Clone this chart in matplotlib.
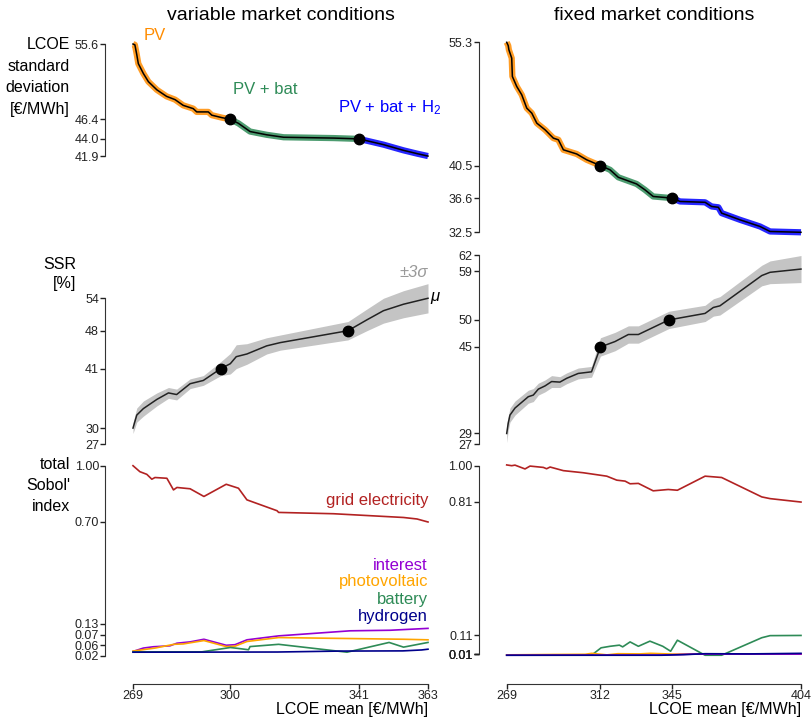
import numpy as np
import matplotlib
matplotlib.use('Agg')
import matplotlib.pyplot as plt

plt.rcParams['font.family'] = ['Liberation Sans', 'DejaVu Sans']
plt.rcParams['mathtext.fontset'] = 'custom'
plt.rcParams['mathtext.rm'] = 'Liberation Sans'
plt.rcParams['mathtext.it'] = 'Liberation Sans:italic'

# ---- LCOE standard deviation vs LCOE mean (variable market) ----
var_pv_x = [269, 269.6, 270.2, 270.7, 272.3, 273.9, 276.6, 279.7, 282.4, 285.0, 288.2, 289.3, 293.0, 294.1, 297.3, 300]
var_pv_y = [55.6, 55.5, 54.3, 53.2, 52.0, 51.0, 50.0, 49.2, 48.8, 48.1, 47.7, 47.3, 47.3, 46.9, 46.6, 46.4]
var_bat_x = [300, 302.6, 306.3, 311.6, 317, 332.9, 341]
var_bat_y = [46.4, 45.9, 44.9, 44.5, 44.2, 44.1, 44.0]
var_h2_x = [341, 348.8, 355.2, 359.5, 363]
var_h2_y = [44.0, 43.3, 42.6, 42.2, 41.9]

# ---- LCOE standard deviation (fixed market) ----
fix_pv_x = [269, 269.7, 270, 271.3, 271.6, 273.6, 275.9, 278.2, 280.5, 282.8, 286.6, 290.4, 292.7, 295, 301.1, 305.7, 312]
fix_pv_y = [55.3, 54.9, 54.4, 53.4, 51.2, 50.0, 49.0, 47.4, 46.8, 45.6, 44.8, 43.8, 43.6, 42.4, 41.9, 41.2, 40.5]
fix_bat_x = [312, 316.4, 320.2, 328.6, 332.4, 336.2, 345]
fix_bat_y = [40.5, 40.0, 39.1, 38.3, 37.6, 36.8, 36.6]
fix_h2_x = [345, 348.5, 360, 363, 366.1, 367.6, 376, 385.2, 389.8, 404]
fix_h2_y = [36.6, 36.2, 36.1, 35.6, 35.5, 34.8, 34.0, 33.2, 32.6, 32.5]

# ---- SSR mean and 3 sigma ----
ssr_var_x = [269, 270.2, 272.3, 276.6, 280.3, 282.9, 287.2, 291.4, 297, 300, 301.9, 305.3, 311.6, 315.9, 337.5, 343.5, 348.8, 355.2, 363]
ssr_var_mu = [30.0, 32.4, 33.6, 35.3, 36.5, 36.2, 38.2, 38.8, 41.0, 41.9, 43.2, 43.7, 45.2, 45.8, 48.0, 50.0, 51.7, 52.9, 54.0]
ssr_var_3sd = [1.0, 1.3, 1.4, 1.2, 1.0, 1.0, 0.9, 0.9, 1.3, 1.9, 2.2, 1.9, 1.5, 1.4, 1.7, 2.0, 2.3, 2.5, 2.7]
ssr_var_dots = [8, 14]

ssr_fix_x = [269, 269.7, 270.5, 272.8, 278.9, 281.2, 283.5, 286.6, 289.6, 293.4, 296.5, 301.8, 307.9, 312,
             318.7, 324.8, 329.4, 343.4, 360, 363.8, 366.8, 386, 389.8, 404]
ssr_fix_mu = [29.0, 30.9, 32.4, 33.7, 35.8, 36.1, 37.2, 37.8, 38.6, 38.5, 39.2, 40.1, 40.4, 45.0,
              46.0, 47.3, 47.3, 50.0, 51.2, 52.3, 52.6, 58.2, 58.8, 59.4]
ssr_fix_3sd = [1.7, 1.3, 1.3, 1.3, 1.2, 1.2, 1.1, 1.1, 1.1, 1.0, 1.0, 1.0, 1.0, 1.7,
               1.7, 1.6, 1.6, 1.6, 1.5, 1.6, 1.7, 1.9, 2.1, 2.5]
ssr_fix_dots = [13, 17]

# ---- total Sobol' indices (variable market) ----
var_grid_x = [269, 271.2, 273.4, 275, 276, 279.8, 281.9, 283, 287.2, 291.6, 298.7, 302.6, 305.3, 314.9, 315.4, 332.9, 355.2, 359.5, 363]
var_grid = [1.0, 0.968, 0.954, 0.928, 0.937, 0.933, 0.871, 0.884, 0.877, 0.836, 0.901, 0.880, 0.818, 0.760, 0.751, 0.744, 0.724, 0.716, 0.700]
var_int_x = [269, 272.3, 275.5, 280.8, 283, 287.2, 291.6, 298.7, 301.5, 305.3, 315.4, 338.2, 351, 363]
var_int = [0.01, 0.028, 0.035, 0.04, 0.054, 0.061, 0.075, 0.043, 0.046, 0.072, 0.093, 0.12, 0.123, 0.133]
var_pvs_x = [269, 276, 282, 285, 291.6, 298.7, 301.5, 305.3, 315.4, 333, 355.2, 363]
var_pvs = [0.012, 0.028, 0.048, 0.05, 0.068, 0.036, 0.038, 0.063, 0.084, 0.080, 0.075, 0.072]
var_bats_x = [269, 291, 300, 302.6, 305.8, 306.3, 315.4, 337.2, 350.6, 355.2, 363]
var_bats = [0.008, 0.008, 0.031, 0.026, 0.019, 0.036, 0.048, 0.006, 0.058, 0.033, 0.058]
var_h2s_x = [269, 315, 335, 355, 361, 363]
var_h2s = [0.006, 0.007, 0.012, 0.013, 0.018, 0.022]

# ---- total Sobol' indices (fixed market) ----
fix_grid_x = [269, 271.3, 272.8, 277.4, 279.7, 285.8, 287.3, 288.9, 295, 304.1, 314.9, 319.5, 323.3, 325.6,
              329.4, 336.2, 343.1, 347.3, 360, 367.6, 386, 389.8, 404]
fix_grid = [1.004, 1.0, 1.003, 0.983, 0.998, 0.991, 0.984, 0.993, 0.974, 0.963, 0.945, 0.924, 0.919, 0.905,
            0.907, 0.868, 0.875, 0.871, 0.945, 0.938, 0.836, 0.827, 0.809]
fix_bats_x = [269, 308, 312.3, 316.4, 320.7, 322.2, 325.6, 329.4, 334.7, 340.6, 344.2, 347.3, 360, 367.6, 386, 389.8, 404]
fix_bats = [0.005, 0.005, 0.043, 0.051, 0.057, 0.048, 0.074, 0.051, 0.078, 0.051, 0.025, 0.083, 0.004, 0.004, 0.096, 0.107, 0.108]
fix_pvs_x = [269, 290, 305, 308, 315, 320, 330, 335, 345, 355, 404]
fix_pvs = [0.006, 0.008, 0.009, 0.014, 0.006, 0.012, 0.011, 0.014, 0.010, 0.010, 0.010]
fix_int_x = [269, 340, 355, 404]
fix_int = [0.004, 0.005, 0.01, 0.01]
fix_h2s_x = [269, 340, 350, 360, 380, 404]
fix_h2s = [0.004, 0.004, 0.007, 0.012, 0.011, 0.014]

c_pv = '#ff8c00'
c_bat = '#2e8b57'
c_h2 = '#0000ff'
c_grid = '#b22222'
c_int = '#9400d3'
c_pvs = '#ffa500'
c_h2s = '#00008b'


def declutter(vals, gap):
    # push tick positions apart so that the labels don't sit on each other
    pos = list(vals)
    order = np.argsort(pos)
    for _ in range(200):
        for a, b in zip(order[:-1], order[1:]):
            d = pos[b] - pos[a]
            if d < gap:
                s = (gap - d) / 2
                pos[a] -= s
                pos[b] += s
    return pos


def style(ax, ticks, fmt, xaxis=None, spread=None):
    for s in ['top', 'right']:
        ax.spines[s].set_visible(False)
    ax.spines['left'].set_position(('outward', 20))
    ax.spines['left'].set_color('#333333')
    pos = declutter(ticks, spread) if spread else list(ticks)
    ax.spines['left'].set_bounds(min(pos), max(pos))
    ax.set_yticks(pos)
    ax.set_yticklabels([fmt.format(t) for t in ticks])
    ax.tick_params(axis='y', length=3.5, width=1, pad=1, labelsize=9, colors='#222222')
    if xaxis is None:
        ax.spines['bottom'].set_visible(False)
        ax.set_xticks([])
    else:
        ax.spines['bottom'].set_position(('outward', 20))
        ax.spines['bottom'].set_color('#333333')
        ax.spines['bottom'].set_bounds(min(xaxis), max(xaxis))
        ax.set_xticks(xaxis)
        ax.tick_params(axis='x', length=3.5, width=1, pad=1, labelsize=9, colors='#222222')
        ax.text(1.0, -0.283, 'LCOE mean [€/MWh]', transform=ax.transAxes,
                ha='right', va='center', fontsize=11.5)
    ax.patch.set_visible(False)


fig = plt.figure(figsize=(8.11, 7.17), dpi=100)
W, H = 811, 717


def axes_px(x0, x1, y0, y1):
    return fig.add_axes([x0 / W, 1 - y1 / H, (x1 - x0) / W, (y1 - y0) / H])


cols = [(133, 428), (506.7, 801)]
rows = [(42.3, 232.3), (255, 444.3), (465.7, 656)]

# top row
for ci, (segs, xl, yl, yt) in enumerate([
        ([(var_pv_x, var_pv_y, c_pv), (var_bat_x, var_bat_y, c_bat), (var_h2_x, var_h2_y, c_h2)],
         (269, 363), (32.58, 55.81), [55.6, 46.4, 44.0, 41.9]),
        ([(fix_pv_x, fix_pv_y, c_pv), (fix_bat_x, fix_bat_y, c_bat), (fix_h2_x, fix_h2_y, c_h2)],
         (269, 404), (32.5, 55.3), [55.3, 40.5, 36.6, 32.5])]):
    ax = axes_px(cols[ci][0], cols[ci][1], rows[0][0], rows[0][1])
    for x, y, c in segs:
        ax.plot(x, y, color=c, lw=4.5, alpha=0.85, solid_capstyle='butt', clip_on=False)
    for x, y, c in segs:
        ax.plot(x, y, color='k', lw=1.1, clip_on=False)
    for x, y, c in segs[:2]:
        ax.plot(x[-1], y[-1], 'o', color='k', ms=7.5, zorder=5, clip_on=False)
    ax.set_xlim(*xl)
    ax.set_ylim(*yl)
    style(ax, yt, '{:.1f}')
    if ci == 0:
        ax.text(272.5, 56.7, 'PV', color=c_pv, fontsize=12, va='center', ha='left')
        ax.text(300.9, 50.0, 'PV + bat', color=c_bat, fontsize=12, va='center', ha='left')
        ax.text(334.4, 47.8, 'PV + bat + H$_\\mathrm{2}$', color=c_h2, fontsize=12, va='center', ha='left')

# middle row
for ci, (x, mu, sd, dots, xl, yt) in enumerate([
        (ssr_var_x, ssr_var_mu, ssr_var_3sd, ssr_var_dots, (269, 363), [54, 48, 41, 30, 27]),
        (ssr_fix_x, ssr_fix_mu, ssr_fix_3sd, ssr_fix_dots, (269, 404), [62, 59, 50, 45, 29, 27])]):
    ax = axes_px(cols[ci][0], cols[ci][1], rows[1][0], rows[1][1])
    x = np.array(x)
    mu = np.array(mu)
    sd = np.array(sd)
    ax.fill_between(x, mu - sd, mu + sd, color='#c4c4c4', lw=0, clip_on=False)
    ax.plot(x, mu, color='#222222', lw=1.1, clip_on=False)
    ax.plot(x[dots], mu[dots], 'o', color='k', ms=7.5, zorder=5, clip_on=False)
    ax.set_xlim(*xl)
    ax.set_ylim(27, 62)
    style(ax, yt, '{:.0f}')
    if ci == 0:
        ax.text(x[-1], 58.7, '±3σ', color='#999999', fontsize=12, style='italic', ha='right', va='center')
        ax.text(x[-1] + 0.6, mu[-1] + 0.4, 'μ', color='k', fontsize=12, style='italic', ha='left', va='center')

# bottom row
ax = axes_px(cols[0][0], cols[0][1], rows[2][0], rows[2][1])
for x, y, c in [(var_grid_x, var_grid, c_grid), (var_int_x, var_int, c_int), (var_pvs_x, var_pvs, c_pvs),
                (var_bats_x, var_bats, c_bat), (var_h2s_x, var_h2s, c_h2s)]:
    ax.plot(x, y, color=c, lw=1.2, clip_on=False)
ax.set_xlim(269, 363)
ax.set_ylim(0, 1.0)
style(ax, [var_grid[0], var_grid[-1], var_int[-1], var_pvs[-1], var_bats[-1], var_h2s[-1]], '{:.2f}',
      xaxis=[269, 300, 341, 363], spread=0.057)
for txt, yy, c in [('grid electricity', 0.813, c_grid), ('interest', 0.469, c_int),
                   ('photovoltaic', 0.384, c_pvs), ('battery', 0.288, c_bat), ('hydrogen', 0.198, c_h2s)]:
    ax.text(363, yy, txt, color=c, fontsize=12, ha='right', va='center')

ax = axes_px(cols[1][0], cols[1][1], rows[2][0], rows[2][1])
for x, y, c in [(fix_grid_x, fix_grid, c_grid), (fix_bats_x, fix_bats, c_bat), (fix_pvs_x, fix_pvs, c_pvs),
                (fix_int_x, fix_int, c_int), (fix_h2s_x, fix_h2s, c_h2s)]:
    ax.plot(x, y, color=c, lw=1.2, clip_on=False)
ax.set_xlim(269, 404)
ax.set_ylim(0, 1.0)
style(ax, [1.0, 0.81, 0.11, 0.01, 0.01, 0.01], '{:.2f}', xaxis=[269, 312, 345, 404])

# titles and row labels
fig.text(280.5 / W, 1 - 16 / H, 'variable market conditions', ha='center', va='center', fontsize=14)
fig.text(654 / W, 1 - 16 / H, 'fixed market conditions', ha='center', va='center', fontsize=14)
fig.text(70 / W, 1 - 37 / H, 'LCOE\nstandard\ndeviation\n[€/MWh]', ha='right', va='top',
         multialignment='right', fontsize=11.5, linespacing=1.55)
fig.text(76 / W, 1 - 257 / H, 'SSR\n[%]', ha='right', va='top', multialignment='right',
         fontsize=11.5, linespacing=1.35)
fig.text(70 / W, 1 - 457 / H, "total\nSobol'\nindex", ha='right', va='top', multialignment='right',
         fontsize=11.5, linespacing=1.5)

fig.savefig('out.png', dpi=100)
